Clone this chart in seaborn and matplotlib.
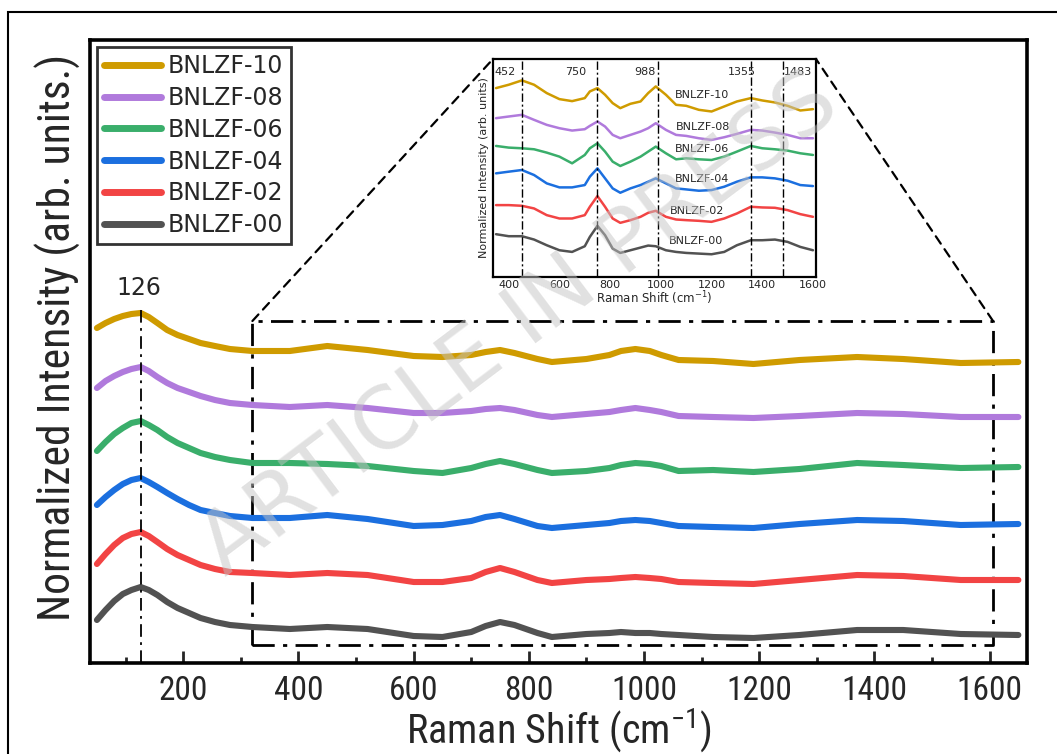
import numpy as np
import pandas as pd
import matplotlib
matplotlib.use('Agg')
import matplotlib.pyplot as plt
import seaborn as sns
from matplotlib import font_manager as fm
from matplotlib.patches import Rectangle, ConnectionPatch

sns.set_theme(style='white')
plt.rcParams['font.family'] = ['DejaVu Sans']
plt.rcParams['mathtext.fontset'] = 'dejavusans'


def find_narrow():
    prefs = ['Liberation Sans Narrow', 'Arial Narrow', 'Noto Sans Condensed',
             'Roboto Condensed', 'Open Sans Condensed']
    ents = fm.fontManager.ttflist
    ok_w = (400, 'normal', 'regular', 'book')
    for p in prefs:
        for e in ents:
            if e.name == p and e.style == 'normal' and e.weight in ok_w:
                return e.fname
    for e in ents:
        if (e.stretch in ('condensed', 'semi-condensed', 'extra-condensed')
                and e.style == 'normal' and e.weight in ok_w):
            return e.fname
    return None


narrow_file = find_narrow()
if narrow_file:
    def NFP(size):
        return fm.FontProperties(fname=narrow_file, size=size)
    tick_size, xlabel_size, ylabel_size = 24, 29, 31.5
else:
    def NFP(size):
        return fm.FontProperties(family='DejaVu Sans', size=size)
    tick_size, xlabel_size, ylabel_size = 20, 25, 25

# ---------------- data ----------------
samples = ['BNLZF-00', 'BNLZF-02', 'BNLZF-04', 'BNLZF-06', 'BNLZF-08', 'BNLZF-10']
colors = ['#525252', '#F24444', '#1B6FDF', '#3AAE6B', '#B07ADC', '#CF9B00']

# main panel (offset, normalized intensity, arb. units)
shift = [50, 65, 80, 95, 110, 126, 140, 155, 172, 190, 210, 230, 255, 281, 320, 385,
         450, 520, 600, 650, 700, 725, 750, 775, 815, 840, 900, 940, 960, 985, 1010,
         1030, 1060, 1120, 1190, 1270, 1370, 1450, 1550, 1650]
int_10 = [3.35, 3.40, 3.44, 3.47, 3.49, 3.50, 3.46, 3.40, 3.33, 3.28, 3.24, 3.20, 3.17, 3.14, 3.12, 3.12,
          3.17, 3.13, 3.07, 3.06, 3.08, 3.11, 3.13, 3.10, 3.04, 3.01, 3.04, 3.08, 3.12, 3.14, 3.12,
          3.08, 3.03, 3.02, 2.99, 3.03, 3.06, 3.04, 3.00, 3.01]
int_08 = [2.75, 2.82, 2.87, 2.91, 2.94, 2.96, 2.92, 2.86, 2.80, 2.75, 2.71, 2.67, 2.63, 2.60, 2.58, 2.56,
          2.58, 2.55, 2.50, 2.50, 2.52, 2.54, 2.55, 2.53, 2.48, 2.46, 2.49, 2.51, 2.53, 2.55, 2.53,
          2.51, 2.47, 2.46, 2.45, 2.47, 2.50, 2.49, 2.46, 2.46]
int_06 = [2.12, 2.21, 2.29, 2.35, 2.40, 2.42, 2.38, 2.33, 2.26, 2.20, 2.15, 2.10, 2.06, 2.03, 2.00, 2.00,
          1.99, 1.97, 1.92, 1.90, 1.95, 1.99, 2.02, 1.99, 1.93, 1.90, 1.92, 1.95, 1.98, 2.00, 1.99,
          1.97, 1.92, 1.93, 1.91, 1.94, 2.00, 1.98, 1.95, 1.96]
int_04 = [1.58, 1.66, 1.73, 1.79, 1.83, 1.85, 1.81, 1.76, 1.70, 1.64, 1.58, 1.53, 1.50, 1.47, 1.45, 1.45,
          1.48, 1.44, 1.37, 1.38, 1.42, 1.46, 1.48, 1.44, 1.37, 1.35, 1.38, 1.40, 1.42, 1.43, 1.42,
          1.40, 1.37, 1.36, 1.35, 1.39, 1.43, 1.42, 1.38, 1.39]
int_02 = [0.99, 1.09, 1.18, 1.25, 1.29, 1.31, 1.27, 1.21, 1.14, 1.08, 1.03, 0.98, 0.94, 0.91, 0.90, 0.88,
          0.90, 0.88, 0.81, 0.81, 0.85, 0.91, 0.95, 0.91, 0.83, 0.80, 0.83, 0.84, 0.85, 0.86, 0.85,
          0.84, 0.81, 0.80, 0.79, 0.83, 0.88, 0.87, 0.83, 0.83]
int_00 = [0.43, 0.53, 0.62, 0.69, 0.73, 0.76, 0.73, 0.68, 0.61, 0.55, 0.50, 0.45, 0.41, 0.38, 0.36, 0.34,
          0.36, 0.34, 0.27, 0.26, 0.31, 0.37, 0.41, 0.38, 0.30, 0.26, 0.29, 0.30, 0.31, 0.30, 0.30,
          0.29, 0.28, 0.26, 0.25, 0.28, 0.33, 0.33, 0.29, 0.28]

# inset (350-1600 region, re-normalized and offset)
shift_in = [350, 400, 452, 500, 550, 600, 650, 700, 720, 750, 780, 810, 840, 880, 920, 950, 980,
            1020, 1060, 1100, 1150, 1200, 1250, 1300, 1355, 1400, 1450, 1500, 1550, 1600]
in_10 = [5.65, 5.75, 5.88, 5.75, 5.50, 5.32, 5.26, 5.35, 5.55, 5.65, 5.45, 5.20, 5.05, 5.18, 5.25, 5.50, 5.70,
         5.45, 5.15, 5.12, 5.00, 4.95, 5.10, 5.25, 5.35, 5.28, 5.22, 5.12, 4.98, 5.02]
in_08 = [4.75, 4.80, 4.85, 4.70, 4.55, 4.45, 4.38, 4.42, 4.52, 4.65, 4.50, 4.25, 4.15, 4.25, 4.35, 4.45, 4.60,
         4.40, 4.25, 4.22, 4.15, 4.10, 4.18, 4.28, 4.40, 4.38, 4.32, 4.25, 4.15, 4.15]
in_06 = [3.92, 3.87, 3.85, 3.82, 3.72, 3.60, 3.40, 3.65, 3.85, 4.00, 3.75, 3.45, 3.32, 3.45, 3.60, 3.75, 3.90,
         3.70, 3.52, 3.55, 3.52, 3.50, 3.60, 3.75, 3.92, 3.85, 3.82, 3.78, 3.70, 3.65]
in_04 = [3.10, 3.15, 3.20, 3.05, 2.80, 2.68, 2.68, 2.75, 3.00, 3.25, 2.95, 2.65, 2.52, 2.65, 2.75, 2.85, 2.95,
         2.80, 2.65, 2.62, 2.58, 2.60, 2.70, 2.85, 2.98, 2.98, 2.95, 2.88, 2.75, 2.72]
in_02 = [2.15, 2.15, 2.13, 2.05, 1.85, 1.75, 1.75, 1.85, 2.10, 2.42, 2.10, 1.75, 1.62, 1.70, 1.80, 1.92, 1.98,
         1.80, 1.72, 1.70, 1.68, 1.65, 1.75, 1.90, 2.10, 2.08, 2.07, 2.00, 1.88, 1.80]
in_00 = [1.28, 1.22, 1.22, 1.12, 0.95, 0.80, 0.75, 0.92, 1.20, 1.53, 1.25, 0.85, 0.72, 0.80, 0.88, 0.94, 0.92,
         0.80, 0.75, 0.72, 0.70, 0.68, 0.75, 0.95, 1.10, 1.10, 1.12, 1.05, 0.90, 0.80]

main_peak = 126
inset_peaks = [452, 750, 988, 1355, 1483]
inset_peak_label_x = [385, 664, 937, 1318, 1541]
inset_label_x = [1161, 1167, 1161, 1161, 1141, 1138]   # BNLZF-10 ... BNLZF-00
inset_label_y = [5.45, 4.50, 3.83, 2.93, 1.98, 1.07]
zoom_box = (320, 1606, 0.18, 3.42)

main_series = [int_00, int_02, int_04, int_06, int_08, int_10]
inset_series = [in_00, in_02, in_04, in_06, in_08, in_10]

main_df = pd.concat([pd.DataFrame({'shift': shift, 'I': v, 'sample': s})
                     for s, v in zip(samples, main_series)])
inset_df = pd.concat([pd.DataFrame({'shift': shift_in, 'I': v, 'sample': s})
                      for s, v in zip(samples, inset_series)])
palette = dict(zip(samples, colors))

# ---------------- figure ----------------
fig = plt.figure(figsize=(10.57, 7.54), dpi=100)
ax = fig.add_axes([90/1057, 1-663/754, (1027-90)/1057, (663-40)/754])

sns.lineplot(data=main_df, x='shift', y='I', hue='sample', palette=palette,
             hue_order=samples, linewidth=4.4, ax=ax, sort=False,
             solid_capstyle='round', solid_joinstyle='round', zorder=3)

ax.set_xlim(38, 1665)
ax.set_ylim(0, 6.23)
ax.set_yticks([])
ax.set_xticks(range(200, 1601, 200))
ax.set_xticks(range(100, 1601, 200), minor=True)
ax.tick_params(axis='x', which='major', direction='in', length=9, width=2, pad=9,
               bottom=True, top=False)
ax.tick_params(axis='x', which='minor', direction='in', length=4.5, width=2, bottom=True, top=False)
for lab in ax.get_xticklabels():
    lab.set_fontproperties(NFP(tick_size))
for sp in ax.spines.values():
    sp.set_linewidth(2.6)
    sp.set_color('black')

ax.set_xlabel('Raman Shift (cm$^{\\mathregular{-1}}$)', fontproperties=NFP(xlabel_size), labelpad=-1)
ax.set_ylabel('Normalized Intensity (arb. units.)', fontproperties=NFP(ylabel_size))
ax.yaxis.set_label_coords(-0.0095, 0.522)

# 126 marker
ax.plot([main_peak, main_peak], [0, 3.53], color='black', lw=1.3,
        ls=(0, (7, 3, 1.5, 3)), zorder=4)
ax.text(main_peak - 4, 3.75, str(main_peak), fontsize=17, ha='center', va='center')

# legend (top sample first)
handles, labels = ax.get_legend_handles_labels()
leg = ax.legend(handles[::-1], labels[::-1], loc='upper left', fontsize=17,
                frameon=True, fancybox=False, edgecolor='black', handlelength=2.4,
                handletextpad=0.3, labelspacing=0.33, borderpad=0.3,
                borderaxespad=0.3, bbox_to_anchor=(0.0, 1.0))
leg.get_frame().set_linewidth(2)
for h in leg.get_lines():
    h.set_linewidth(5)
    h.set_solid_capstyle('round')

# zoom box
x0, x1, y0, y1 = zoom_box
ax.plot([x0, x1, x1, x0, x0], [y0, y0, y1, y1, y0], color='black', lw=2,
        ls=(0, (8, 3, 1.5, 3)), zorder=2)

# inset
axin = fig.add_axes([493/1057, 1-277/754, (816-493)/1057, (277-59)/754])
sns.lineplot(data=inset_df, x='shift', y='I', hue='sample', palette=palette,
             hue_order=samples, linewidth=1.8, ax=axin, sort=False, legend=False,
             solid_joinstyle='round')
axin.set_xlim(338, 1612)
axin.set_ylim(0, 6.52)
axin.set_yticks([])
axin.set_xticks(range(400, 1601, 200))
axin.tick_params(axis='x', direction='in', length=3, width=1, labelsize=8, pad=2)
for sp in axin.spines.values():
    sp.set_linewidth(1.6)
    sp.set_color('black')
axin.set_xlabel('Raman Shift (cm$^{-1}$)', fontsize=8.5, labelpad=0)
axin.set_ylabel('Normalized Intensity (arb. units)', fontsize=8, labelpad=3)
for p, lx in zip(inset_peaks, inset_peak_label_x):
    axin.axvline(p, color='black', lw=1, ls=(0, (6, 2, 1.5, 2)))
    axin.text(lx, 6.12, str(p), fontsize=8, ha='center', va='center')
for s, lx, ly in zip(samples[::-1], inset_label_x, inset_label_y):
    axin.text(lx, ly, s, fontsize=8, ha='center', va='center')

# connectors
for (bx, ax_frac) in [(x0, 0.0), (x1, 1.0)]:
    con = ConnectionPatch(xyA=(bx, y1), coordsA=ax.transData,
                          xyB=(ax_frac, 1.0), coordsB=axin.transAxes,
                          color='black', lw=1.6, ls=(0, (4, 3)))
    fig.add_artist(con)

# outer frame
fig.add_artist(Rectangle((8/1057, -0.05), 1.2, 1-12/754 + 0.05, transform=fig.transFigure,
                         fill=False, edgecolor='black', lw=1.5, clip_on=False))

# watermark
fig.text(520/1057, 1-326/754, 'ARTICLE IN PRESS', fontsize=62, color='#c4c4c4',
         alpha=0.5, rotation=37, ha='center', va='center', zorder=10)

fig.savefig('out.png', dpi=100)
